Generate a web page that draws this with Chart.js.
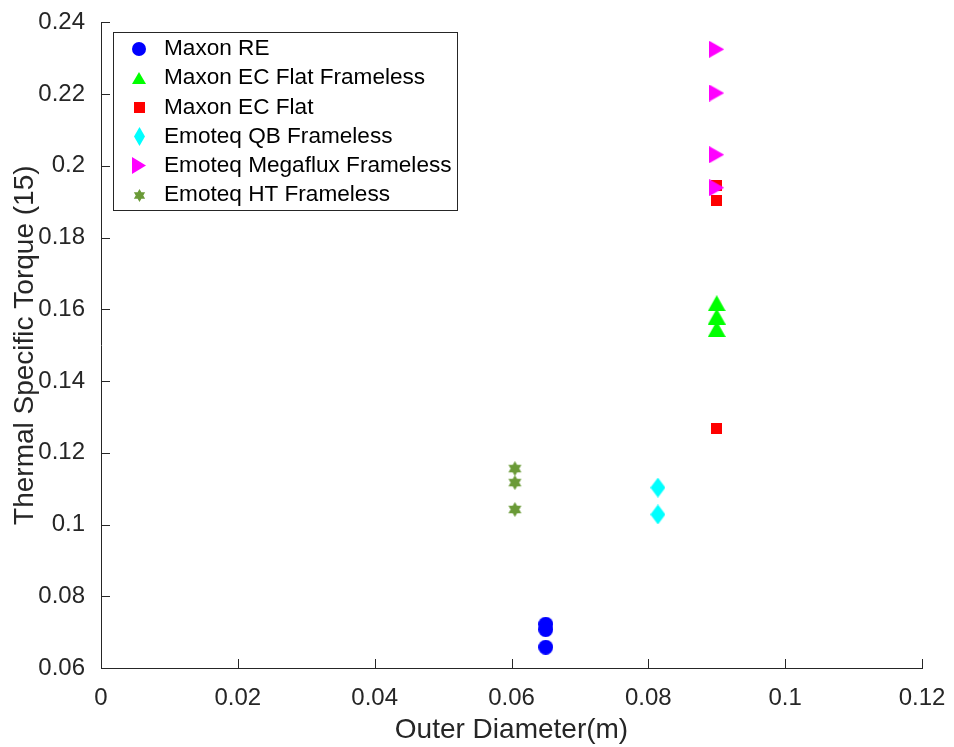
<!DOCTYPE html>
<html>
<head>
<meta charset="utf-8">
<script src="https://cdn.jsdelivr.net/npm/chart.js@4.4.0/dist/chart.umd.min.js"></script>
<style>
html, body { margin: 0; padding: 0; background: #fff; }
#wrap { width: 954px; height: 747px; position: relative; }
</style>
</head>
<body>
<div id="wrap"><canvas id="chart"></canvas></div>
<script>
var seriesNames = ['Maxon RE', 'Maxon EC Flat Frameless', 'Maxon EC Flat',
    'Emoteq QB Frameless', 'Emoteq Megaflux Frameless', 'Emoteq HT Frameless'];

var reX = [0.065, 0.065, 0.065];
var reY = [0.0722, 0.0707, 0.0658];
var ecFramelessX = [0.09, 0.09, 0.09];
var ecFramelessY = [0.1617, 0.158, 0.1545];
var ecFlatX = [0.09, 0.09, 0.09];
var ecFlatY = [0.1944, 0.1903, 0.1267];
var qbX = [0.0814, 0.0814];
var qbY = [0.1103, 0.1028];
var megafluxX = [0.09, 0.09, 0.09, 0.09];
var megafluxY = [0.2325, 0.2203, 0.2031, 0.1939];
var htX = [0.0605, 0.0605, 0.0605];
var htY = [0.1156, 0.1117, 0.1042];

var xTicks = [0, 0.02, 0.04, 0.06, 0.08, 0.1, 0.12];
var yTicks = [0.06, 0.08, 0.1, 0.12, 0.14, 0.16, 0.18, 0.2, 0.22, 0.24];

var FONT = '"Liberation Sans", Arial, Helvetica, sans-serif';
var AXIS = '#262626';

// marker pictures, drawn once and used as pointStyle
function makeMarker(kind, color, w, h) {
    var c = document.createElement('canvas');
    c.width = w;
    c.height = h;
    var g = c.getContext('2d');
    g.fillStyle = color;
    g.beginPath();
    if (kind === 'circle') {
        g.ellipse(w / 2, h / 2, w / 2, h / 2, 0, 0, Math.PI * 2);
    } else if (kind === 'up') {
        g.moveTo(w / 2, 0);
        g.lineTo(w, h);
        g.lineTo(0, h);
    } else if (kind === 'square') {
        g.rect(0, 0, w, h);
    } else if (kind === 'diamond') {
        g.moveTo(w / 2, 0);
        g.lineTo(w, h / 2);
        g.lineTo(w / 2, h);
        g.lineTo(0, h / 2);
    } else if (kind === 'right') {
        g.moveTo(0, 0);
        g.lineTo(w, h / 2);
        g.lineTo(0, h);
    } else if (kind === 'hex') {
        var r = w / 2, cx = w / 2, cy = h / 2;
        for (var k = 0; k < 2; k++) {
            var a0 = k === 0 ? -Math.PI / 2 : Math.PI / 2;
            g.moveTo(cx + r * Math.cos(a0), cy + r * Math.sin(a0));
            for (var j = 1; j < 3; j++) {
                var a = a0 + j * 2 * Math.PI / 3;
                g.lineTo(cx + r * Math.cos(a), cy + r * Math.sin(a));
            }
            g.closePath();
        }
    }
    g.closePath();
    g.fill();
    return c;
}

var colors = ['#0000ff', '#00ff00', '#ff0000', '#00ffff', '#ff00ff', '#6a9a37'];
var pointMarkers = [
    makeMarker('circle', colors[0], 15, 15),
    makeMarker('up', colors[1], 18, 16),
    makeMarker('square', colors[2], 11, 11),
    makeMarker('diamond', colors[3], 15, 20),
    makeMarker('right', colors[4], 15, 17),
    makeMarker('hex', colors[5], 15, 15)
];
var legendMarkers = [
    makeMarker('circle', colors[0], 14, 14),
    makeMarker('up', colors[1], 14, 12),
    makeMarker('square', colors[2], 11, 11),
    makeMarker('diamond', colors[3], 11, 19),
    makeMarker('right', colors[4], 14, 17),
    makeMarker('hex', colors[5], 13, 13)
];

function pairs(xs, ys) {
    return xs.map(function (x, i) { return { x: x, y: ys[i] }; });
}

var allX = [reX, ecFramelessX, ecFlatX, qbX, megafluxX, htX];
var allY = [reY, ecFramelessY, ecFlatY, qbY, megafluxY, htY];

var datasets = seriesNames.map(function (name, i) {
    return {
        label: name,
        data: pairs(allX[i], allY[i]),
        pointStyle: pointMarkers[i],
        backgroundColor: colors[i],
        borderColor: colors[i],
        order: 6 - i
    };
});

function fmt(v) {
    return String(parseFloat(Number(v).toFixed(2)));
}

// MATLAB style ticks pointing into the plot
var innerTicks = {
    id: 'innerTicks',
    afterDraw: function (chart) {
        var ctx = chart.ctx, area = chart.chartArea;
        var xs = chart.scales.x, ys = chart.scales.y;
        ctx.save();
        ctx.strokeStyle = AXIS;
        ctx.lineWidth = 1;
        ctx.beginPath();
        xTicks.forEach(function (t) {
            var px = Math.round(xs.getPixelForValue(t)) + 0.5;
            ctx.moveTo(px, area.bottom);
            ctx.lineTo(px, area.bottom - 9);
        });
        yTicks.forEach(function (t) {
            var py = Math.round(ys.getPixelForValue(t)) + 0.5;
            ctx.moveTo(area.left, py);
            ctx.lineTo(area.left + 9, py);
        });
        ctx.stroke();
        ctx.restore();
    }
};

var boxLegend = {
    id: 'boxLegend',
    afterDraw: function (chart) {
        var ctx = chart.ctx;
        ctx.save();
        ctx.font = '22.6px ' + FONT;
        var maxW = 0;
        seriesNames.forEach(function (n) {
            maxW = Math.max(maxW, ctx.measureText(n).width);
        });
        var left = 113.5, top = 32.5;
        var right = Math.round(164 + maxW + 5) + 0.5;
        var bottom = 210.5;
        ctx.fillStyle = '#fff';
        ctx.fillRect(left, top, right - left, bottom - top);
        ctx.strokeStyle = AXIS;
        ctx.lineWidth = 1;
        ctx.strokeRect(left, top, right - left, bottom - top);
        ctx.textBaseline = 'middle';
        ctx.textAlign = 'left';
        ctx.fillStyle = '#000';
        seriesNames.forEach(function (n, i) {
            var rowY = 49 + i * 29.2;
            var m = legendMarkers[i];
            ctx.drawImage(m, Math.round(139 - m.width / 2), Math.round(rowY - m.height / 2));
            ctx.fillText(n, 164, rowY);
        });
        ctx.restore();
    }
};

var ctx = document.getElementById('chart').getContext('2d');
var myChart = new Chart(ctx, {
    type: 'scatter',
    data: { datasets: datasets },
    options: {
        responsive: true,
        maintainAspectRatio: false,
        animation: false,
        layout: { padding: { top: 20, right: 32, left: 0, bottom: 0 } },
        plugins: {
            legend: { display: false },
            tooltip: { enabled: false }
        },
        scales: {
            x: {
                type: 'linear',
                min: 0,
                max: 0.12,
                afterBuildTicks: function (s) {
                    s.ticks = xTicks.map(function (v) { return { value: v }; });
                },
                ticks: {
                    callback: fmt,
                    font: { size: 24, family: FONT },
                    color: AXIS,
                    padding: 8,
                    maxRotation: 0
                },
                grid: { display: false },
                border: { display: true, color: AXIS, width: 1 },
                title: {
                    display: true,
                    text: 'Outer Diameter(m)',
                    font: { size: 28, family: FONT },
                    color: AXIS,
                    padding: { top: 0, bottom: 0 }
                },
                afterFit: function (s) { s.height = 79; }
            },
            y: {
                type: 'linear',
                min: 0.06,
                max: 0.24,
                afterBuildTicks: function (s) {
                    s.ticks = yTicks.map(function (v) { return { value: v }; });
                },
                ticks: {
                    callback: fmt,
                    font: { size: 24, family: FONT },
                    color: AXIS,
                    padding: 8
                },
                grid: { display: false },
                border: { display: true, color: AXIS, width: 1 },
                title: {
                    display: true,
                    text: 'Thermal Specific Torque (15)',
                    font: { size: 28, family: FONT },
                    color: AXIS,
                    padding: { top: 8, bottom: 0 }
                },
                afterFit: function (s) { s.width = 101; }
            }
        }
    },
    plugins: [innerTicks, boxLegend]
});
</script>
</body>
</html>
